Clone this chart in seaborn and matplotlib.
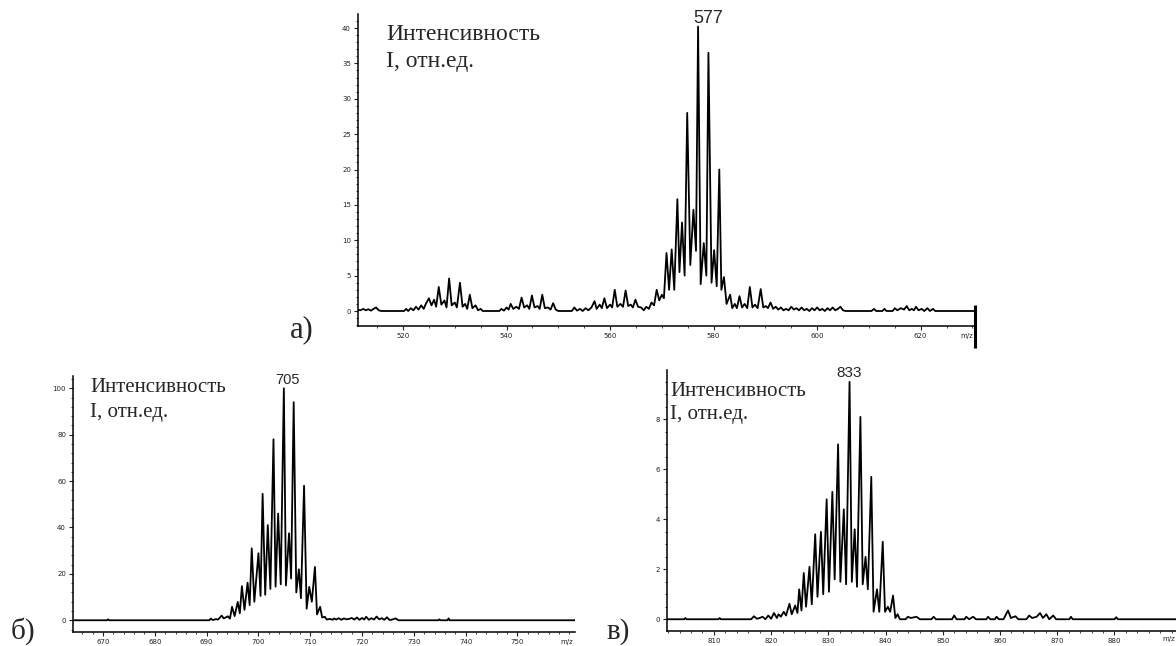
import numpy as np
import pandas as pd
import matplotlib
matplotlib.use("Agg")
import matplotlib.pyplot as plt
from matplotlib.ticker import MultipleLocator
import seaborn as sns

# ---------------- data ----------------
# panel а) : trace of the spectrum around m/z 577
mz_a = [511.3, 511.8, 512.3, 512.8, 513.3, 513.8, 514.3, 514.8, 515.3, 515.8,
        520.2, 520.6, 521.0, 521.5, 522.0, 522.5, 523.0, 523.5, 524.0, 524.4,
        525.0, 525.5, 526.0, 526.4, 526.9, 527.4, 528.0, 528.4, 528.9, 529.4,
        530.0, 530.4, 531.0, 531.5, 532.0, 532.4, 532.9, 533.4, 534.0, 534.5,
        535.0, 535.4, 538.6, 539.0, 539.5, 540.0, 540.4, 540.8, 541.3, 541.9,
        542.4, 542.9, 543.4, 544.0, 544.4, 544.9, 545.4, 546.0, 546.4, 546.9,
        547.4, 548.0, 548.5, 549.0, 549.5, 550.0, 552.6, 553.1, 553.6, 554.2,
        554.7, 555.3, 555.8, 556.4, 557.0, 557.4, 558.0, 558.4, 558.9, 559.4,
        560.0, 560.4, 560.9, 561.4, 562.0, 562.5, 563.0, 563.5, 564.0, 564.4,
        564.9, 565.4, 566.0, 566.5, 567.0, 567.5, 568.0, 568.5, 569.0, 569.5,
        570.0, 570.4, 570.9, 571.4, 571.9, 572.4, 573.0, 573.4, 573.9, 574.4,
        574.9, 575.5, 576.1, 576.6, 577.0, 577.5, 578.1, 578.6, 579.0, 579.6,
        580.1, 580.6, 581.1, 581.5, 582.0, 582.5, 583.2, 583.6, 584.1, 584.5,
        585.0, 585.5, 586.0, 586.5, 587.0, 587.5, 588.0, 588.5, 589.1, 589.6,
        590.1, 590.5, 591.0, 591.5, 592.0, 592.5, 593.0, 593.5, 594.0, 594.5,
        595.0, 595.5, 596.0, 596.5, 597.0, 597.5, 598.0, 598.5, 599.0, 599.5,
        600.0, 600.5, 601.0, 601.5, 602.0, 602.5, 603.0, 603.5, 604.0, 604.5,
        605.0, 605.5, 610.5, 611.0, 611.4, 612.6, 613.0, 613.4, 614.6, 615.0,
        615.5, 616.2, 616.8, 617.3, 617.8, 618.3, 618.7, 619.1, 619.6, 620.2,
        620.7, 621.3, 621.8, 622.4, 622.8, 630.5]
int_a = [0.2, 0.1, 0.3, 0.1, 0.25, 0.05, 0.3, 0.5, 0.1, 0.0,
         0.0, 0.3, 0.0, 0.4, 0.1, 0.6, 0.2, 0.8, 0.3, 1.0,
         1.8, 0.8, 1.6, 0.6, 3.4, 0.9, 1.5, 0.5, 4.6, 0.8,
         1.2, 0.5, 4.0, 0.6, 1.0, 0.3, 2.3, 0.4, 0.8, 0.1,
         0.3, 0.0, 0.0, 0.3, 0.05, 0.5, 0.2, 1.0, 0.3, 0.6,
         0.3, 1.9, 0.5, 0.8, 0.3, 2.2, 0.5, 0.7, 0.3, 2.3,
         0.4, 0.5, 0.2, 1.1, 0.2, 0.0, 0.0, 0.5, 0.05, 0.3,
         0.0, 0.4, 0.1, 0.5, 1.4, 0.3, 0.9, 0.4, 1.8, 0.4,
         0.9, 0.5, 3.0, 0.6, 1.0, 0.6, 2.9, 0.7, 0.9, 0.5,
         1.6, 0.6, 0.5, 0.1, 0.6, 0.3, 1.2, 0.8, 3.0, 1.5,
         2.3, 1.8, 8.2, 3.0, 8.7, 3.0, 15.8, 5.5, 12.5, 5.0,
         28.0, 6.5, 14.3, 8.5, 40.2, 3.8, 9.6, 5.0, 36.5, 4.0,
         8.6, 3.5, 20.0, 3.0, 4.8, 1.0, 2.3, 0.4, 1.0, 0.4,
         2.1, 0.5, 1.0, 0.4, 3.4, 0.5, 0.9, 0.4, 3.1, 0.5,
         0.7, 0.4, 1.2, 0.3, 0.6, 0.2, 0.5, 0.1, 0.3, 0.1,
         0.6, 0.2, 0.4, 0.1, 0.5, 0.1, 0.3, 0.0, 0.4, 0.1,
         0.5, 0.1, 0.3, 0.0, 0.4, 0.1, 0.5, 0.1, 0.3, 0.6,
         0.1, 0.0, 0.0, 0.3, 0.0, 0.0, 0.3, 0.0, 0.0, 0.4,
         0.1, 0.4, 0.2, 0.7, 0.1, 0.3, 0.1, 0.6, 0.1, 0.3,
         0.0, 0.4, 0.0, 0.3, 0.0, 0.0]

# panel б) : trace around m/z 705
mz_b = [664.2, 670.8, 671.0, 671.2, 690.5, 690.8, 691.2, 691.8, 692.2, 692.9,
        693.3, 694.1, 694.5, 694.9, 695.4, 696.0, 696.4, 696.8, 697.3, 697.9,
        698.3, 698.7, 699.2, 700.0, 700.4, 700.8, 701.3, 701.8, 702.3, 702.9,
        703.3, 703.8, 704.3, 704.9, 705.3, 705.9, 706.3, 706.8, 707.3, 707.8,
        708.2, 708.8, 709.3, 709.8, 710.3, 710.9, 711.3, 711.9, 712.3, 712.8,
        713.2, 713.8, 714.3, 714.6, 715.0, 715.5, 716.0, 716.5, 717.0, 717.5,
        718.0, 718.5, 719.0, 719.5, 720.0, 720.4, 720.8, 721.3, 721.8, 722.3,
        722.8, 723.3, 723.8, 724.3, 724.8, 725.3, 725.8, 726.5, 727.0, 734.7,
        734.9, 735.1, 736.5, 736.7, 736.9, 761.1]
int_b = [0.0, 0.0, 0.4, 0.0, 0.0, 0.7, 0.1, 0.5, 0.3, 2.0,
         0.8, 1.7, 0.7, 5.8, 1.8, 7.9, 3.0, 14.7, 4.5, 16.2,
         6.5, 31.0, 8.0, 28.9, 10.5, 54.5, 11.0, 41.0, 13.5, 78.0,
         14.5, 46.0, 15.5, 100.0, 15.0, 37.5, 18.0, 94.0, 12.0, 22.0,
         9.5, 58.0, 5.0, 14.4, 8.0, 23.0, 2.5, 5.8, 1.2, 1.5,
         0.3, 0.6, 0.2, 0.8, 0.3, 0.9, 0.2, 0.8, 0.4, 0.6,
         1.0, 0.3, 1.2, 0.2, 1.0, 0.3, 1.5, 0.2, 0.9, 0.3,
         1.6, 0.4, 0.9, 0.2, 1.3, 0.1, 0.3, 0.8, 0.0, 0.0,
         0.4, 0.0, 0.0, 0.8, 0.0, 0.0]

# panel в) : trace around m/z 833
mz_c = [801.8, 804.8, 805.0, 805.2, 810.8, 811.0, 811.2, 816.5, 817.0, 817.5,
        818.0, 818.5, 819.0, 819.5, 820.0, 820.5, 821.0, 821.3, 821.7, 822.2,
        822.6, 823.2, 823.6, 824.2, 824.6, 824.9, 825.3, 825.7, 826.1, 826.7,
        827.1, 827.7, 828.1, 828.7, 829.1, 829.7, 830.1, 830.7, 831.1, 831.7,
        832.1, 832.7, 833.1, 833.7, 834.1, 834.6, 835.0, 835.6, 836.0, 836.5,
        836.9, 837.5, 837.9, 838.5, 838.9, 839.5, 839.9, 840.4, 840.8, 841.3,
        841.7, 842.1, 842.5, 843.5, 843.9, 844.4, 845.4, 846.0, 848.0, 848.4,
        848.8, 851.6, 852.0, 852.4, 853.8, 854.1, 854.6, 855.3, 855.8, 857.6,
        857.9, 858.3, 859.1, 859.4, 859.8, 860.6, 861.4, 861.9, 862.7, 863.2,
        864.6, 865.1, 865.6, 866.4, 867.0, 867.5, 868.1, 868.6, 869.3, 869.8,
        872.1, 872.4, 872.7, 880.0, 880.3, 880.6, 892.5]
int_c = [0.0, 0.0, 0.05, 0.0, 0.0, 0.05, 0.0, 0.0, 0.12, 0.02,
         0.05, 0.1, 0.0, 0.15, 0.02, 0.25, 0.05, 0.2, 0.1, 0.3,
         0.15, 0.62, 0.2, 0.55, 0.25, 1.2, 0.35, 1.85, 0.5, 2.1,
         0.6, 3.4, 0.9, 3.5, 1.0, 4.8, 1.1, 5.1, 1.6, 7.0,
         1.5, 4.4, 1.4, 9.5, 1.5, 3.6, 1.3, 8.1, 1.4, 2.5,
         1.2, 5.7, 0.3, 1.2, 0.3, 3.1, 0.3, 0.5, 0.3, 0.95,
         0.05, 0.2, 0.0, 0.0, 0.1, 0.05, 0.1, 0.0, 0.0, 0.1,
         0.0, 0.0, 0.15, 0.0, 0.0, 0.1, 0.0, 0.1, 0.0, 0.0,
         0.1, 0.0, 0.0, 0.1, 0.0, 0.0, 0.35, 0.05, 0.12, 0.0,
         0.0, 0.15, 0.05, 0.1, 0.25, 0.05, 0.2, 0.0, 0.15, 0.0,
         0.0, 0.1, 0.0, 0.0, 0.08, 0.0, 0.0]

ticks_a = [520, 540, 560, 580, 600, 620]
ticks_b = [670, 680, 690, 700, 710, 720, 730, 740, 750]
ticks_c = [810, 820, 830, 840, 850, 860, 870, 880]
yticks_a = [0, 5, 10, 15, 20, 25, 30, 35, 40]
yticks_b = [0, 20, 40, 60, 80, 100]
yticks_c = [0, 2, 4, 6, 8]

peak_labels = ["577", "705", "833"]
panel_letters = ["а)", "б)", "в)"]
y_title = ["Интенсивность", "I, отн.ед."]

# ---------------- drawing ----------------
sns.set_style("ticks")
plt.rcParams["font.family"] = ["DejaVu Sans"]

W, H = 1176, 646
fig = plt.figure(figsize=(W / 100, H / 100), dpi=100)


def rect(l, t, r, b):
    return [l / W, 1 - b / H, (r - l) / W, (b - t) / H]


def fpx(x, y):
    return x / W, 1 - y / H


ax_a = fig.add_axes(rect(358, 14, 975, 326))
ax_b = fig.add_axes(rect(73, 376, 575, 632))
ax_c = fig.add_axes(rect(667, 370, 1186, 631))

specs = [
    (ax_a, mz_a, int_a, ticks_a, yticks_a, (511.3, 630.5), (-2.12, 41.98), 5, 1),
    (ax_b, mz_b, int_b, ticks_b, yticks_b, (664.2, 761.1), (-5.06, 105.3), 2, 4),
    (ax_c, mz_c, int_c, ticks_c, yticks_c, (801.8, 892.5), (-0.47, 9.975), 2, 0.5),
]

for ax, mz, inten, xt, yt, xl, yl, xminor, yminor in specs:
    df = pd.DataFrame({"mz": mz, "I": inten})
    sns.lineplot(data=df, x="mz", y="I", ax=ax, color="black", lw=1.3,
                 estimator=None, sort=True)
    ax.set_xlim(*xl)
    ax.set_ylim(*yl)
    ax.set_xticks(xt)
    ax.set_yticks(yt)
    ax.xaxis.set_minor_locator(MultipleLocator(xminor))
    ax.yaxis.set_minor_locator(MultipleLocator(yminor))
    ax.set_xlabel("")
    ax.set_ylabel("")
    for s in ["top", "right"]:
        ax.spines[s].set_visible(False)
    for s in ["left", "bottom"]:
        ax.spines[s].set_linewidth(1.1)
        ax.spines[s].set_color("black")
    ax.tick_params(which="major", length=3, width=0.8, labelsize=5,
                   pad=2, colors="#222222")
    ax.tick_params(which="minor", length=1.5, width=0.6, colors="#222222")
    ax.patch.set_alpha(0)

# "m/z" marks at the right end of each x axis
ax_a.annotate("m/z", xy=(1, 0), xycoords="axes fraction", xytext=(-6, -5),
              textcoords="offset points", ha="center", va="top",
              fontsize=5, color="#222222")
ax_b.annotate("m/z", xy=(1, 0), xycoords="axes fraction", xytext=(-6, -5),
              textcoords="offset points", ha="center", va="top",
              fontsize=5, color="#222222")
fig.text(1175 / W, 1 - 636 / H, "m/z", ha="right", va="top",
         fontsize=5, color="#222222")

# thick bar at right end of panel а
ax_a.plot([1, 1], [-0.07, 0.067], transform=ax_a.transAxes, color="black",
          lw=2.2, clip_on=False, solid_capstyle="butt")

# peak labels
ax_a.text(577.0 - 0.9, 41.3, peak_labels[0], ha="left", va="center",
          fontsize=13, family="Liberation Sans")
ax_b.text(705.6, 103.5, peak_labels[1], ha="center", va="center",
          fontsize=10.5, family="Liberation Sans")
ax_c.text(833.6, 9.86, peak_labels[2], ha="center", va="center",
          fontsize=11, family="Liberation Sans")

# axis titles inside the panels
serif = "Liberation Serif"
for (x, y1, y2, fs) in [(386, 35, 62, 17), (90, 387, 412, 15), (670, 391, 415, 15)]:
    fig.text(*fpx(x, y1), y_title[0], ha="left", va="center", fontsize=fs, family=serif)
    fig.text(*fpx(x, y2), y_title[1], ha="left", va="center", fontsize=fs, family=serif)

# panel letters
fig.text(*fpx(302, 330), panel_letters[0], ha="center", va="center", fontsize=22, family=serif)
fig.text(*fpx(23, 645), panel_letters[1], ha="center", va="bottom", fontsize=21, family=serif)
fig.text(*fpx(618, 645), panel_letters[2], ha="center", va="bottom", fontsize=21, family=serif)

fig.savefig("out.png", dpi=100, facecolor="white")
